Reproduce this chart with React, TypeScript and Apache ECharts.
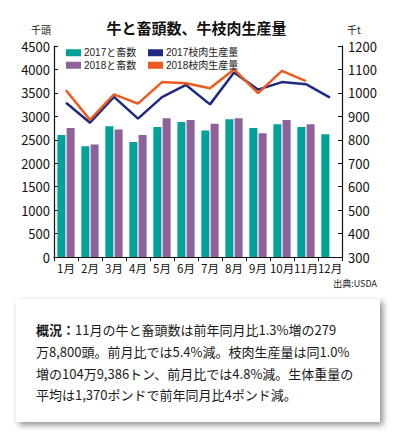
import React, { useEffect, useRef } from "react";
import * as echarts from "echarts";

const months = ["1月", "2月", "3月", "4月", "5月", "6月", "7月", "8月", "9月", "10月", "11月", "12月"];
const slaughter2017 = [2600, 2360, 2790, 2450, 2770, 2880, 2700, 2940, 2750, 2830, 2770, 2620];
const slaughter2018 = [2750, 2400, 2720, 2600, 2960, 2920, 2840, 2960, 2640, 2920, 2830, null];
const beef2017 = [958, 873, 983, 890, 982, 1034, 951, 1087, 1014, 1046, 1037, 980];
const beef2018 = [1011, 885, 994, 954, 1046, 1041, 1020, 1100, 999, 1094, 1050, null];
const seriesNames = ["2017と畜数", "2018と畜数", "2017枝肉生産量", "2018枝肉生産量"];
const title = "牛と畜頭数、牛枝肉生産量";
const leftUnit = "千頭";
const rightUnit = "千t";
const source = "出典:USDA";
const noteLines = [
  "{b|概況：}11月の牛と畜頭数は前年同月比1.3%増の279",
  "万8,800頭。前月比では5.4%減。枝肉生産量は同1.0%",
  "増の104万9,386トン、前月比では4.8%減。生体重量の",
  "平均は1,370ポンドで前年同月比4ポンド減。",
];

const FONT = "'Noto Sans CJK JP', 'Noto Sans', sans-serif";
const LEGEND_FONT = "'Liberation Sans', 'Noto Sans CJK JP', sans-serif";
const C1 = "#00a199";
const C2 = "#8f6199";
const C3 = "#1e2a80";
const C4 = "#ec5a1f";

export default function App() {
  const ref = useRef<HTMLDivElement>(null);
  useEffect(() => {
    document.body.style.margin = "0";
    const chart = echarts.init(ref.current!, null, { renderer: "svg" });
    const axisText = { color: "#111", fontSize: 13, fontFamily: FONT, formatter: (v: any) => String(v) };
    const legendText = { fontSize: 10, color: "#222", fontFamily: LEGEND_FONT, lineHeight: 12.5, padding: [0, 0, 0, -2] };
    chart.setOption({
      animation: false,
      backgroundColor: "#fff",
      textStyle: { fontFamily: FONT },
      title: {
        text: title,
        left: "center",
        top: 15,
        textStyle: { fontSize: 15, fontWeight: "bold", color: "#111", fontFamily: FONT },
      },
      legend: [
        {
          data: [seriesNames[0], seriesNames[1]],
          orient: "vertical",
          left: 61,
          top: 41.5,
          itemWidth: 15,
          itemHeight: 7,
          itemGap: 0,
          icon: "rect",
          textStyle: legendText,
        },
        {
          data: [seriesNames[2], seriesNames[3]],
          orient: "vertical",
          left: 143,
          top: 41.5,
          itemWidth: 15,
          itemHeight: 7,
          itemGap: 0,
          icon: "rect",
          textStyle: legendText,
        },
      ],
      grid: { left: 54, right: 51, top: 46, bottom: 176, containLabel: false },
      xAxis: {
        type: "category",
        data: months,
        axisLine: { lineStyle: { color: "#111", width: 1.2 } },
        axisTick: { show: true, length: 4, lineStyle: { color: "#111" } },
        axisLabel: { color: "#111", fontFamily: FONT, fontSize: 11.5, margin: 5, interval: 0 },
      },
      yAxis: [
        {
          type: "value",
          min: 0,
          max: 4500,
          interval: 500,
          splitLine: { show: false },
          axisLine: { show: true, lineStyle: { color: "#111", width: 1.2 } },
          axisTick: { show: true, inside: true, length: 4, lineStyle: { color: "#111" } },
          axisLabel: { ...axisText, margin: 4 },
        },
        {
          type: "value",
          min: 300,
          max: 1200,
          interval: 100,
          splitLine: { show: false },
          axisLine: { show: true, lineStyle: { color: "#111", width: 1.2 } },
          axisTick: { show: true, inside: true, length: 4, lineStyle: { color: "#111" } },
          axisLabel: { ...axisText, margin: 6 },
        },
      ],
      series: [
        {
          name: seriesNames[0],
          type: "bar",
          data: slaughter2017,
          barWidth: 8,
          barGap: "15%",
          itemStyle: { color: C1 },
        },
        {
          name: seriesNames[1],
          type: "bar",
          data: slaughter2018,
          barWidth: 8,
          barGap: "15%",
          itemStyle: { color: C2 },
        },
        {
          name: seriesNames[2],
          type: "line",
          yAxisIndex: 1,
          data: beef2017,
          symbol: "none",
          lineStyle: { color: C3, width: 2.5 },
          itemStyle: { color: C3 },
        },
        {
          name: seriesNames[3],
          type: "line",
          yAxisIndex: 1,
          data: beef2018,
          symbol: "none",
          lineStyle: { color: C4, width: 2.5 },
          itemStyle: { color: C4 },
        },
      ],
      graphic: [
        {
          type: "text",
          left: 31,
          top: 24,
          style: { text: leftUnit, fontSize: 10, fill: "#222", fontFamily: FONT },
        },
        {
          type: "text",
          left: 347,
          top: 24,
          style: { text: rightUnit, fontSize: 10, fill: "#222", fontFamily: FONT },
        },
        {
          type: "text",
          right: 16,
          top: 279,
          style: { text: source, fontSize: 9, fill: "#222", fontFamily: FONT },
        },
        {
          type: "rect",
          shape: { x: 16, y: 299, width: 364, height: 123 },
          style: {
            fill: "#fff",
            shadowBlur: 6,
            shadowOffsetX: 3,
            shadowOffsetY: 3,
            shadowColor: "rgba(0,0,0,0.45)",
          },
        },
        {
          type: "text",
          x: 36,
          y: 319,
          style: {
            text: noteLines.join("\n"),
            fontSize: 13,
            lineHeight: 21.7,
            fill: "#1a1a1a",
            fontFamily: FONT,
            rich: {
              b: { fontSize: 13, lineHeight: 21.7, fontWeight: "bold", fill: "#1a1a1a", fontFamily: FONT },
            },
          },
        },
      ],
    });
    return () => chart.dispose();
  }, []);
  return <div ref={ref} style={{ position: "fixed", left: 0, top: 0, width: 393, height: 433 }} />;
}
